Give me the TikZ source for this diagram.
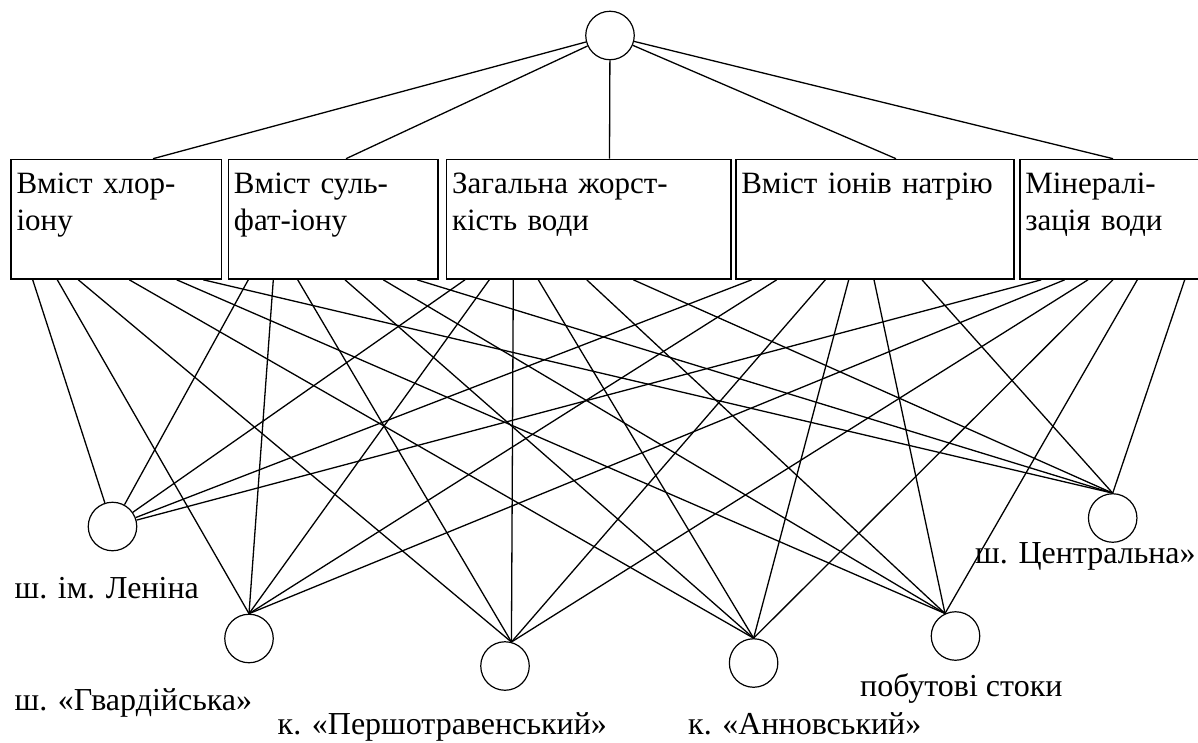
\documentclass[tikz,border=0pt]{standalone}
\usepackage{fontspec}
\setmainfont{Liberation Serif}
\usepackage{tikz}

\begin{document}
\begin{tikzpicture}[x=1pt, y=-1pt,
	every node/.style={font=\fontsize{32}{36.5}\selectfont},
	crit/.style={draw, line width=1.5pt, anchor=north west, inner xsep=5.5pt, inner ysep=0pt, align=left, text height=34.3pt, text depth=85.3pt, font=\fontsize{31}{36.5}\selectfont},
	site/.style={draw, circle, line width=1.2pt, minimum size=48.5pt, inner sep=0pt},
	lbl/.style={anchor=base west, inner sep=0pt},
	wire/.style={line width=1.3pt}]
				    		\useasboundingbox (0,0) rectangle (1198,742);
				    		\node[site] (top) at (610,35.5) {};
				    		\node[crit, text width=199.5pt] (b1) at (10.3,158.7) {Вміст хлор-\\іону};
				    		\node[crit, text width=198.7pt] (b2) at (227.7,158.7) {Вміст суль-\\фат-іону};
				    		\node[crit, text width=273.2pt] (b3) at (445.8,158.7) {Загальна жорст-\\кість води};
				    		\node[crit, text width=267pt] (b4) at (735,158.7) {Вміст іонів натрію};
				    		\node[crit, text width=171pt] (b5) at (1019,158.7) {Мінералі-\\зація води};
				    		\node[site] (len) at (112.5,526.5) {};
				    		\node[site] (gv) at (249,638.5) {};
				    		\node[site] (pe) at (505,666) {};
				    		\node[site] (an) at (753.6,663) {};
				    		\node[site] (pob) at (955.5,636) {};
				    		\node[site] (cen) at (1112.7,518) {};
				    		\node[lbl] (lenlbl) at (14.5,598) {ш. ім. Леніна};
				    		\node[lbl] (gvlbl) at (14.5,710) {ш. «Гвардійська»};
				    		\node[lbl] (pelbl) at (277.5,734) {к. «Першотравенський»};
				    		\node[lbl] (anlbl) at (688,734) {к. «Анновський»};
				    		\node[lbl] (poblbl) at (860,696) {побутові стоки};
				    		\node[lbl] (cenlbl) at (975,563) {ш. Центральна»};
				    		\draw[wire] (b1.north west) ++(142.7,0) -- (top);
				    		\draw[wire] (b2.north west) ++(118.3,0) -- (top);
				    		\draw[wire] (b3.north west) ++(163.7,0) -- (top);
				    		\draw[wire] (b4.north west) ++(161,0) -- (top);
				    		\draw[wire] (b5.north west) ++(94,0) -- (top);
				    		\draw[wire] (b1.south west) ++(22.4,0) -- (len);
				    		\draw[wire] (b1.south west) ++(47,0) -- (gv.north);
				    		\draw[wire] (b1.south west) ++(68,0) -- (pe.75);
				    		\draw[wire] (b1.south west) ++(119,0) -- (an.north);
				    		\draw[wire] (b1.south west) ++(166.4,0) -- (pob.115);
				    		\draw[wire] (b1.south west) ++(193,0) -- (cen.north);
				    		\draw[wire] (b2.south west) ++(20.6,0) -- (len);
				    		\draw[wire] (b2.south west) ++(45.6,0) -- (gv.north);
				    		\draw[wire] (b2.south west) ++(70,0) -- (pe.75);
				    		\draw[wire] (b2.south west) ++(117.3,0) -- (an.north);
				    		\draw[wire] (b2.south west) ++(155.6,0) -- (pob.115);
				    		\draw[wire] (b2.south west) ++(189.3,0) -- (cen.north);
				    		\draw[wire] (b3.south west) ++(19.2,0) -- (len);
				    		\draw[wire] (b3.south west) ++(43.5,0) -- (gv.north);
				    		\draw[wire] (b3.south west) ++(67.5,0) -- (pe.75);
				    		\draw[wire] (b3.south west) ++(92.5,0) -- (an.north);
				    		\draw[wire] (b3.south west) ++(140.9,0) -- (pob.115);
				    		\draw[wire] (b3.south west) ++(187.5,0) -- (cen.north);
				    		\draw[wire] (b4.south west) ++(16.7,0) -- (len);
				    		\draw[wire] (b4.south west) ++(41.7,0) -- (gv.north);
				    		\draw[wire] (b4.south west) ++(90.3,0) -- (pe.75);
				    		\draw[wire] (b4.south west) ++(113.7,0) -- (an.north);
				    		\draw[wire] (b4.south west) ++(139,0) -- (pob.115);
				    		\draw[wire] (b4.south west) ++(187,0) -- (cen.north);
				    		\draw[wire] (b5.south west) ++(22.3,0) -- (len);
				    		\draw[wire] (b5.south west) ++(45.7,0) -- (gv.north);
				    		\draw[wire] (b5.south west) ++(69,0) -- (pe.75);
				    		\draw[wire] (b5.south west) ++(94,0) -- (an.north);
				    		\draw[wire] (b5.south west) ++(118.3,0) -- (pob.115);
				    		\draw[wire] (b5.south west) ++(165.7,0) -- (cen.north);
				    	\end{tikzpicture}
\end{document}
